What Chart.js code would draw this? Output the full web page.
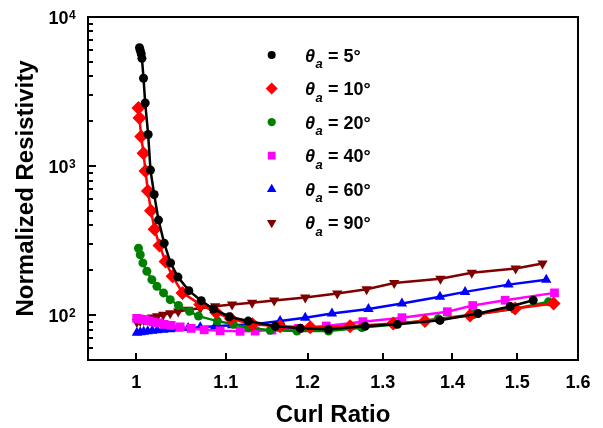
<!DOCTYPE html>
<html>
<head>
<meta charset="utf-8">
<script src="https://cdn.jsdelivr.net/npm/chart.js@4/dist/chart.umd.min.js"></script>
<style>
  html, body { margin: 0; padding: 0; background: #fff; }
</style>
</head>
<body>
<canvas id="myChart" width="603" height="428"></canvas>
<script>
const FONT = "'Liberation Sans', Arial, sans-serif";

// curl ratio / normalized resistivity, one pair per angle
const x5  = [1.0035, 1.0043, 1.0053, 1.0061, 1.0078, 1.0096, 1.0128, 1.0153, 1.0193, 1.0240, 1.0302, 1.0372, 1.0454, 1.0576, 1.0716, 1.0856, 1.1040, 1.1265, 1.1594, 1.1907, 1.2267, 1.2757, 1.3204, 1.3815, 1.4386, 1.4886, 1.5255];
const y5  = [6215, 5970, 5668, 5280, 3885, 2647, 1627, 940, 645, 434, 304, 224, 180, 146, 125, 110, 97.6, 91.2, 84.1, 81.5, 80.3, 84.1, 86.7, 92.2, 102.6, 114.3, 125.9];

const x10 = [1.0024, 1.0035, 1.0053, 1.0078, 1.0099, 1.0125, 1.0158, 1.0197, 1.0251, 1.0317, 1.0394, 1.0505, 1.0705, 1.0888, 1.1060, 1.1316, 1.1654, 1.2034, 1.2555, 1.3144, 1.3596, 1.4264, 1.4965, 1.5589];
const y10 = [2451, 2102, 1578, 1221, 926, 681, 501, 377, 293, 229, 182, 141, 118, 104, 94.6, 86.7, 84.1, 82.8, 84.1, 88.0, 91.2, 99.5, 110.8, 119.7];

const x20 = [1.0024, 1.0043, 1.0071, 1.0114, 1.0168, 1.0223, 1.0295, 1.0368, 1.0460, 1.0583, 1.0685, 1.0903, 1.1090, 1.1269, 1.1532, 1.1865, 1.2271, 1.2713, 1.3172, 1.3790, 1.4314, 1.4949, 1.5506];
const y20 = [281, 254, 224, 197, 173, 156, 141, 127, 116, 106, 98.5, 91.2, 86.7, 82.4, 79.1, 78.2, 78.2, 82.4, 86.7, 94.6, 101, 110, 122.8];

const x40 = [1.0005, 1.0032, 1.0064, 1.0102, 1.0139, 1.0182, 1.0237, 1.0302, 1.0379, 1.0479, 1.0602, 1.0750, 1.0934, 1.1168, 1.1349, 1.1553, 1.1885, 1.2241, 1.2727, 1.3267, 1.3923, 1.4305, 1.4807, 1.5605];
const y40 = [95.1, 94.3, 93.6, 92.9, 91.5, 90.1, 88.7, 86.7, 85.4, 83.4, 81.5, 79.7, 78.5, 77.9, 78.2, 79.4, 81.5, 84.5, 90.4, 96.1, 105.4, 116, 125.9, 141];

const x60 = [1.0007, 1.0043, 1.0080, 1.0123, 1.0172, 1.0226, 1.0291, 1.0368, 1.0457, 1.0568, 1.0705, 1.0876, 1.1074, 1.1316, 1.1654, 1.1970, 1.2315, 1.2803, 1.3267, 1.3815, 1.4189, 1.4859, 1.5469];
const y60 = [76.3, 76.7, 77.3, 77.9, 78.5, 79.1, 79.7, 80.3, 81.2, 81.9, 82.8, 84.1, 85.4, 86.7, 91.2, 96.1, 102.6, 110, 119.7, 132.7, 143.2, 160.2, 173];

const x90 = [1.0007, 1.0043, 1.0080, 1.0123, 1.0172, 1.0226, 1.0291, 1.0368, 1.0457, 1.0568, 1.0705, 1.0876, 1.1074, 1.1312, 1.1581, 1.1970, 1.2385, 1.2778, 1.3158, 1.3822, 1.4290, 1.4973, 1.5407];
const y90 = [90.1, 91.5, 92.9, 94.6, 96.5, 98.3, 100.6, 103.1, 105.8, 108.6, 111.4, 114.8, 117.9, 121, 125.3, 131.2, 139.5, 149.1, 164.4, 175.7, 192.6, 205.7, 222.2];

const angles = ['5', '10', '20', '40', '60', '90'];

const xTicks = [1, 1.1, 1.2, 1.3, 1.4, 1.5, 1.6];
const xTickLabels = ['1', '1.1', '1.2', '1.3', '1.4', '1.5', '1.6'];
const yMajor = [100, 1000, 10000];
const yExponents = ['2', '3', '4'];

// minor ticks 60..90, then 2..9 per decade
let yTickValues = [60, 70, 80, 90];
for (let d = 100; d < 10000; d *= 10) {
  for (let m = 1; m < 10; m++) yTickValues.push(m * d);
}
yTickValues.push(10000);

function pts(xs, ys) {
  let result = [];
  for (let i = 0; i < xs.length; i++) result.push({x: xs[i], y: ys[i]});
  return result;
}

const styles = [
  {color: '#000000', data: pts(x5, y5),   pointStyle: 'circle',   radius: 4.5, rotation: 0,   legendRadius: 4},
  {color: '#ff0000', data: pts(x10, y10), pointStyle: 'rectRot',  radius: 7,   rotation: 0,   legendRadius: 6},
  {color: '#008000', data: pts(x20, y20), pointStyle: 'circle',   radius: 4.5, rotation: 0,   legendRadius: 4.2},
  {color: '#ff00ff', data: pts(x40, y40), pointStyle: 'rect',     radius: 6.2, rotation: 0,   legendRadius: 5.5},
  {color: '#0000ff', data: pts(x60, y60), pointStyle: 'triangle', radius: 6,   rotation: 0,   legendRadius: 5.5},
  {color: '#800000', data: pts(x90, y90), pointStyle: 'triangle', radius: 6,   rotation: 180, legendRadius: 5.5}
];

const datasets = styles.map(s => ({
  data: s.data,
  borderColor: s.color,
  backgroundColor: s.color,
  borderWidth: 2.5,
  pointStyle: s.pointStyle,
  pointRadius: s.radius,
  pointRotation: s.rotation,
  pointBorderWidth: 0,
  pointBackgroundColor: s.color,
  tension: 0,
  fill: false
}));

// frame, inward ticks, 10^n labels and the legend
const decorations = {
  id: 'decorations',
  afterDatasetsDraw(chart) {
    const c = chart.ctx;
    const a = chart.chartArea;
    const xs = chart.scales.x;
    const ys = chart.scales.y;
    c.save();
    c.strokeStyle = '#000';
    c.lineWidth = 2;
    c.strokeRect(a.left, a.top, a.right - a.left, a.bottom - a.top);

    c.beginPath();
    xTicks.forEach(v => {
      const px = Math.round(xs.getPixelForValue(v));
      c.moveTo(px, a.bottom);
      c.lineTo(px, a.bottom - 7);
    });
    yTickValues.forEach(v => {
      const py = Math.round(ys.getPixelForValue(v));
      const len = yMajor.includes(v) ? 8 : 5;
      c.moveTo(a.left, py);
      c.lineTo(a.left + len, py);
    });
    c.stroke();

    c.fillStyle = '#000';
    c.textBaseline = 'alphabetic';
    yMajor.forEach((v, i) => {
      const py = ys.getPixelForValue(v);
      c.font = 'bold 18px ' + FONT;
      c.textAlign = 'right';
      c.fillText('10', 68.5, py + 7);
      c.font = 'bold 12px ' + FONT;
      c.textAlign = 'left';
      c.fillText(yExponents[i], 69, py + 1.5);
    });

    const lx = 271.7, tx = 305, top = 55, step = 33.55;
    styles.forEach((s, i) => {
      const ry = top + i * step;
      c.fillStyle = s.color;
      c.strokeStyle = s.color;
      Chart.helpers.drawPoint(c, {pointStyle: s.pointStyle, radius: s.legendRadius, rotation: s.rotation, borderWidth: 0}, lx, ry);
      c.fillStyle = '#000';
      c.textAlign = 'left';
      c.font = 'italic bold 18px ' + FONT;
      c.fillText('\u03b8', tx, ry + 6.5);
      c.font = 'italic bold 13px ' + FONT;
      c.fillText('a', tx + 10.5, ry + 13);
      c.font = 'bold 18px ' + FONT;
      c.fillText('= ' + angles[i] + '\u00b0', tx + 23, ry + 6.5);
    });
    c.restore();
  }
};

var ctx = document.getElementById('myChart').getContext('2d');
var myChart = new Chart(ctx, {
  type: 'line',
  data: { datasets: datasets },
  plugins: [decorations],
  options: {
    responsive: false,
    animation: false,
    devicePixelRatio: 1,
    layout: { padding: { left: 0, right: 25, top: 17, bottom: 0 } },
    plugins: {
      legend: { display: false },
      tooltip: { enabled: false }
    },
    scales: {
      x: {
        type: 'logarithmic',
        min: 0.95,
        max: 1.6,
        grid: { display: false, drawTicks: false },
        border: { display: false },
        afterBuildTicks: scale => { scale.ticks = xTicks.map(v => ({ value: v })); },
        afterFit: scale => { scale.height = 68; },
        ticks: {
          autoSkip: false,
          maxRotation: 0,
          padding: 12,
          color: '#000',
          font: { family: FONT, size: 18, weight: 'bold' },
          callback: (v, i) => xTickLabels[i]
        },
        title: {
          display: true,
          text: 'Curl Ratio',
          color: '#000',
          font: { family: FONT, size: 24, weight: 'bold', lineHeight: 1.05 },
          padding: { top: 0, bottom: 0 }
        }
      },
      y: {
        type: 'logarithmic',
        min: 50,
        max: 10000,
        grid: { display: false, drawTicks: false },
        border: { display: false },
        afterBuildTicks: scale => { scale.ticks = yTickValues.map(v => ({ value: v, major: yMajor.includes(v) })); },
        afterFit: scale => { scale.width = 88; },
        ticks: { display: false },
        title: {
          display: true,
          text: 'Normalized Resistivity',
          color: '#000',
          font: { family: FONT, size: 24, weight: 'bold', lineHeight: 1.2 },
          padding: { top: 12, bottom: 0 }
        }
      }
    }
  }
});
</script>
</body>
</html>
